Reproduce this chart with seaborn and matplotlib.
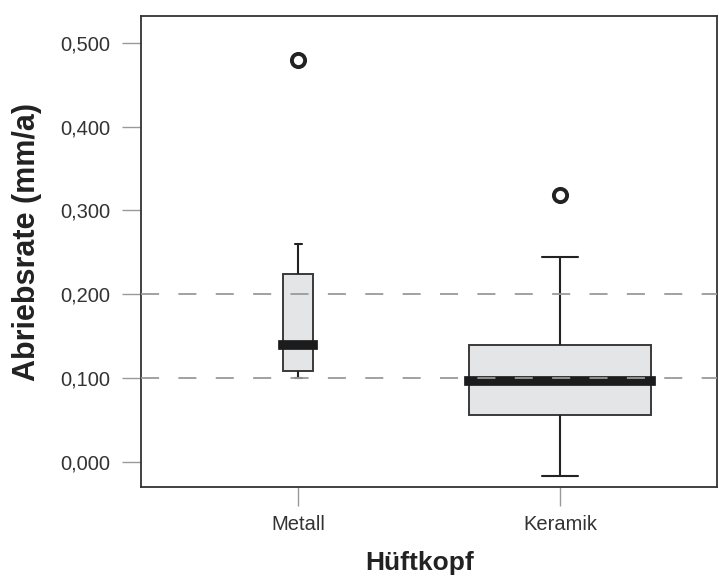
import matplotlib
matplotlib.use("Agg")
import matplotlib.pyplot as plt
import seaborn as sns
import pandas as pd

# ---- data ----
categories = ["Metall", "Keramik"]
# values chosen so that min / Q1 / median / Q3 / max / outlier match the picture
metall_values = [0.100, 0.109, 0.109, 0.139, 0.139, 0.224, 0.224, 0.260, 0.480]
keramik_values = [-0.017, 0.056, 0.056, 0.096, 0.096, 0.139, 0.139, 0.244, 0.319]
ytick_values = [0.0, 0.1, 0.2, 0.3, 0.4, 0.5]
ytick_labels = ["0,000", "0,100", "0,200", "0,300", "0,400", "0,500"]
reference_lines = [0.1, 0.2]
x_label = "Hüftkopf"
y_label = "Abriebsrate (mm/a)"

sns.set_theme(style="white")
plt.rcParams["font.family"] = ["Liberation Sans", "DejaVu Sans"]

W, H = 719, 583
fig = plt.figure(figsize=(W / 100, H / 100), dpi=100)
left, right, top, bottom = 141, 717, 16, 487
ax = fig.add_axes([left / W, 1 - bottom / H, (right - left) / W, (bottom - top) / H])

df_m = pd.DataFrame({"kopf": "Metall", "rate": metall_values})
df_k = pd.DataFrame({"kopf": "Keramik", "rate": keramik_values})

common = dict(
    x="kopf", y="rate", order=categories, color="#e4e5e6", saturation=1,
    linecolor="#3a3a3a", linewidth=1.4, fliersize=9, ax=ax,
    medianprops={"color": "#1c1c1c", "linewidth": 7, "solid_capstyle": "projecting"},
    whiskerprops={"color": "#222222", "linewidth": 1.5},
    capprops={"color": "#222222", "linewidth": 1.5},
    flierprops={"marker": "o", "markerfacecolor": "none", "markeredgecolor": "#222222",
                "markeredgewidth": 2.8, "markersize": 9.5},
)
sns.boxplot(data=df_m, width=0.115, capwidths=0.027, **common)
sns.boxplot(data=df_k, width=0.695, capwidths=0.137, **common)

for yv in reference_lines:
    ax.axhline(yv, color="#9a9a9a", lw=1.3, linestyle=(0, (10, 10.7)), zorder=5)

ax.set_xlim(-0.6, 1.6)
ax.set_ylim(-0.03, 0.532)
ax.set_yticks(ytick_values)
ax.set_yticklabels(ytick_labels)

for s in ax.spines.values():
    s.set_visible(True)
    s.set_color("#333333")
    s.set_linewidth(1.3)

ax.tick_params(axis="both", which="major", length=14, width=1.0, color="#999999",
               labelsize=14.5, labelcolor="#333333", direction="out")
ax.tick_params(axis="y", pad=8, left=True)
ax.tick_params(axis="x", pad=6, bottom=True)

ax.set_xlabel(x_label, fontsize=19, fontweight="bold", color="#222222")
ax.set_ylabel(y_label, fontsize=22, fontweight="bold", color="#222222")
ax.xaxis.set_label_coords((420 - left) / (right - left), (bottom - 551) / (bottom - top))
ax.yaxis.set_label_coords((42 - left) / (right - left), (bottom - 242) / (bottom - top))

fig.savefig("out.png", dpi=100)
